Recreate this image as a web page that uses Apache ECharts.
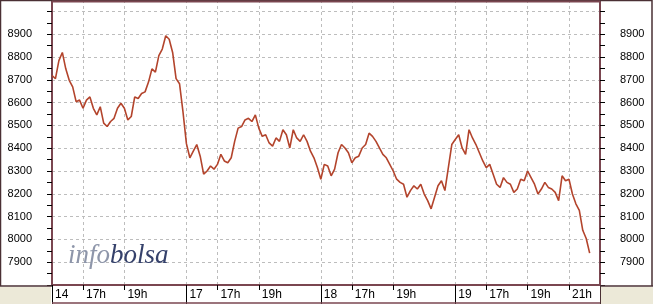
<!DOCTYPE html>
<html><head><meta charset="utf-8">
<script src="https://cdn.jsdelivr.net/npm/echarts@6/dist/echarts.min.js"></script>
<style>html,body{margin:0;padding:0;background:#fff}#c{width:653px;height:304px}</style>
</head><body><div id="c"></div>
<script>
// ---- data (10-minute samples, 15:30-22:00) ----
const days = ['14', '17', '18', '19'];
const day14 = [8719, 8705, 8784, 8820, 8748, 8698, 8669, 8604, 8611, 8575, 8611, 8625, 8575, 8546, 8582, 8510, 8495, 8517, 8531, 8575, 8597, 8575, 8524, 8539, 8625, 8618, 8640, 8647, 8690, 8748, 8734, 8806, 8835, 8893, 8878, 8820, 8705, 8683, 8560];
const day17 = [8420, 8358, 8387, 8416, 8365, 8286, 8300, 8322, 8308, 8329, 8373, 8344, 8336, 8358, 8430, 8488, 8495, 8524, 8531, 8517, 8546, 8488, 8452, 8459, 8423, 8409, 8445, 8430, 8481, 8459, 8401, 8481, 8445, 8430, 8459, 8430, 8387, 8358, 8315];
const day18 = [8264, 8329, 8322, 8279, 8308, 8380, 8416, 8401, 8380, 8336, 8358, 8365, 8401, 8416, 8466, 8452, 8430, 8401, 8373, 8358, 8329, 8300, 8264, 8250, 8242, 8185, 8214, 8235, 8221, 8242, 8199, 8170, 8134, 8185, 8235, 8257, 8214, 8315, 8416];
const day19 = [8438, 8459, 8401, 8373, 8481, 8445, 8416, 8380, 8344, 8315, 8329, 8286, 8242, 8228, 8271, 8250, 8242, 8206, 8221, 8264, 8257, 8300, 8271, 8242, 8199, 8221, 8250, 8228, 8221, 8206, 8170, 8279, 8257, 8264, 8199, 8156, 8127, 8040, 8004, 7940];
const yTickLabels = [7900, 8000, 8100, 8200, 8300, 8400, 8500, 8600, 8700, 8800, 8900];
const xTickCats   = ['14 15:30', '14 17:00', '14 19:00', '17 15:30', '17 17:00', '17 19:00', '18 15:30', '18 17:00', '18 19:00', '19 15:30', '19 17:00', '19 19:00', '19 21:00'];
const xTickLabels = ['14', '17h', '19h', '17', '17h', '19h', '18', '17h', '19h', '19', '17h', '19h', '21h'];
const dayStartCats = ['14 15:30', '17 15:30', '18 15:30', '19 15:30'];

// ---- categories: 10-minute slots per session ----
const slotsPerDay = 39;
const cats = [];
function tstr(m) { const h = Math.floor(m / 60), mm = m % 60; return (h < 10 ? '0' : '') + h + ':' + (mm < 10 ? '0' : '') + mm; }
days.forEach(function (d, di) {
  const n = (di === days.length - 1) ? slotsPerDay + 1 : slotsPerDay;
  for (let i = 0; i < n; i++) cats.push(d + ' ' + tstr(15 * 60 + 30 + i * 10));
});
while (cats.length < 160) cats.push('pad' + cats.length);
const values = [].concat(day14, day17, day18, day19);

const labelIdx = {};
xTickCats.forEach(function (c, i) { labelIdx[cats.indexOf(c)] = xTickLabels[i]; });
const dayIdx = {};
dayStartCats.forEach(function (c) { dayIdx[cats.indexOf(c)] = true; });

const FRAME = '#7a4650';
const OUTER = '#4a3034';
const GRIDC = '#bdbdbd';

const chart = echarts.init(document.getElementById('c'), null, { renderer: 'canvas' });
chart.setOption({
  animation: false,
  backgroundColor: '#ffffff',
  grid: { left: 52, right: 53, top: -3, bottom: 19, show: false },
  xAxis: [{
    type: 'category', data: cats, boundaryGap: false, position: 'bottom',
    axisLine: { show: true, lineStyle: { color: FRAME, width: 2 } },
    axisTick: { show: true, length: 5, interval: function (i) { return labelIdx[i] !== undefined && !dayIdx[i]; }, lineStyle: { color: '#000' } },
    axisLabel: { show: true, interval: function (i) { return labelIdx[i] !== undefined; },
      formatter: function (v, i) { return labelIdx[i] || ''; },
      align: 'left', padding: [0, 0, 0, 3], margin: 4, fontSize: 12, color: '#000', fontFamily: 'Liberation Sans, Arial, sans-serif' },
    splitLine: { show: true, interval: function (i) { return labelIdx[i] !== undefined && i !== 0; }, lineStyle: { color: GRIDC, type: [3, 3], width: 1 } }
  }, {
    type: 'category', data: cats, boundaryGap: false, position: 'bottom',
    axisLine: { show: false },
    axisTick: { show: true, length: 19, interval: function (i) { return !!dayIdx[i]; }, lineStyle: { color: '#000', width: 1 } },
    axisLabel: { show: false }, splitLine: { show: false }
  }],
  yAxis: [{
    type: 'value', position: 'left', min: 7800, max: 9050, interval: 100,
    axisLine: { show: true, lineStyle: { color: FRAME, width: 2 } },
    axisTick: { show: true, length: 5, lineStyle: { color: '#000' } },
    minorTick: { show: true, splitNumber: 2, length: 5, lineStyle: { color: '#000' } },
    axisLabel: { margin: 20, fontSize: 11, color: '#000', fontFamily: 'Liberation Sans, Arial, sans-serif',
      formatter: function (v) { return yTickLabels.indexOf(v) >= 0 ? String(v) : ''; } },
    splitLine: { show: true, lineStyle: { color: GRIDC, type: [3, 3], width: 1 } }
  }, {
    type: 'value', position: 'right', min: 7800, max: 9050, interval: 100,
    axisLine: { show: true, onZero: false, lineStyle: { color: FRAME, width: 2 } },
    axisTick: { show: true, length: 5, lineStyle: { color: '#000' } },
    minorTick: { show: true, splitNumber: 2, length: 5, lineStyle: { color: '#000' } },
    axisLabel: { margin: 20, fontSize: 11, color: '#000', fontFamily: 'Liberation Sans, Arial, sans-serif',
      formatter: function (v) { return yTickLabels.indexOf(v) >= 0 ? String(v) : ''; } },
    splitLine: { show: false }
  }],
  series: [{
    type: 'line', data: values, xAxisIndex: 0, yAxisIndex: 0, symbol: 'none', smooth: false,
    lineStyle: { color: '#b3442c', width: 1.6 }, emphasis: { disabled: true }, z: 5
  }],
  graphic: [
    { type: 'rect', shape: { x: 0, y: 287, width: 51, height: 17 }, style: { fill: '#ece9d8' }, silent: true, z: 0 },
    { type: 'rect', shape: { x: 601, y: 287, width: 52, height: 17 }, style: { fill: '#ece9d8' }, silent: true, z: 0 },
    { type: 'polyline', shape: { points: [[0.5, 286], [0.5, 0.5], [652, 0.5], [652, 286]] }, style: { stroke: OUTER, lineWidth: 1.5, fill: null }, silent: true, z: 10 },
    { type: 'line', shape: { x1: 52, y1: 1.5, x2: 600, y2: 1.5 }, style: { stroke: FRAME, lineWidth: 2 }, silent: true, z: 10 },
    { type: 'line', shape: { x1: 0, y1: 286, x2: 52, y2: 286 }, style: { stroke: OUTER, lineWidth: 1.5 }, silent: true, z: 10 },
    { type: 'line', shape: { x1: 600, y1: 286, x2: 653, y2: 286 }, style: { stroke: OUTER, lineWidth: 1.5 }, silent: true, z: 10 },
    { type: 'line', shape: { x1: 52, y1: 303, x2: 601, y2: 303 }, style: { stroke: FRAME, lineWidth: 1.5 }, silent: true, z: 10 },
    { type: 'line', shape: { x1: 600.5, y1: 285, x2: 600.5, y2: 304 }, style: { stroke: OUTER, lineWidth: 1 }, silent: true, z: 10 },
    { type: 'text', left: 68, top: 242, silent: true, z: 4,
      style: { text: '{a|info}{b|bolsa}', rich: {
        a: { fontFamily: 'Liberation Serif', fontStyle: 'italic', fontSize: 27, fill: '#8e96aa' },
        b: { fontFamily: 'Liberation Serif', fontStyle: 'italic', fontSize: 27, fill: '#35416b' } } } }
  ]
});
</script></body></html>
